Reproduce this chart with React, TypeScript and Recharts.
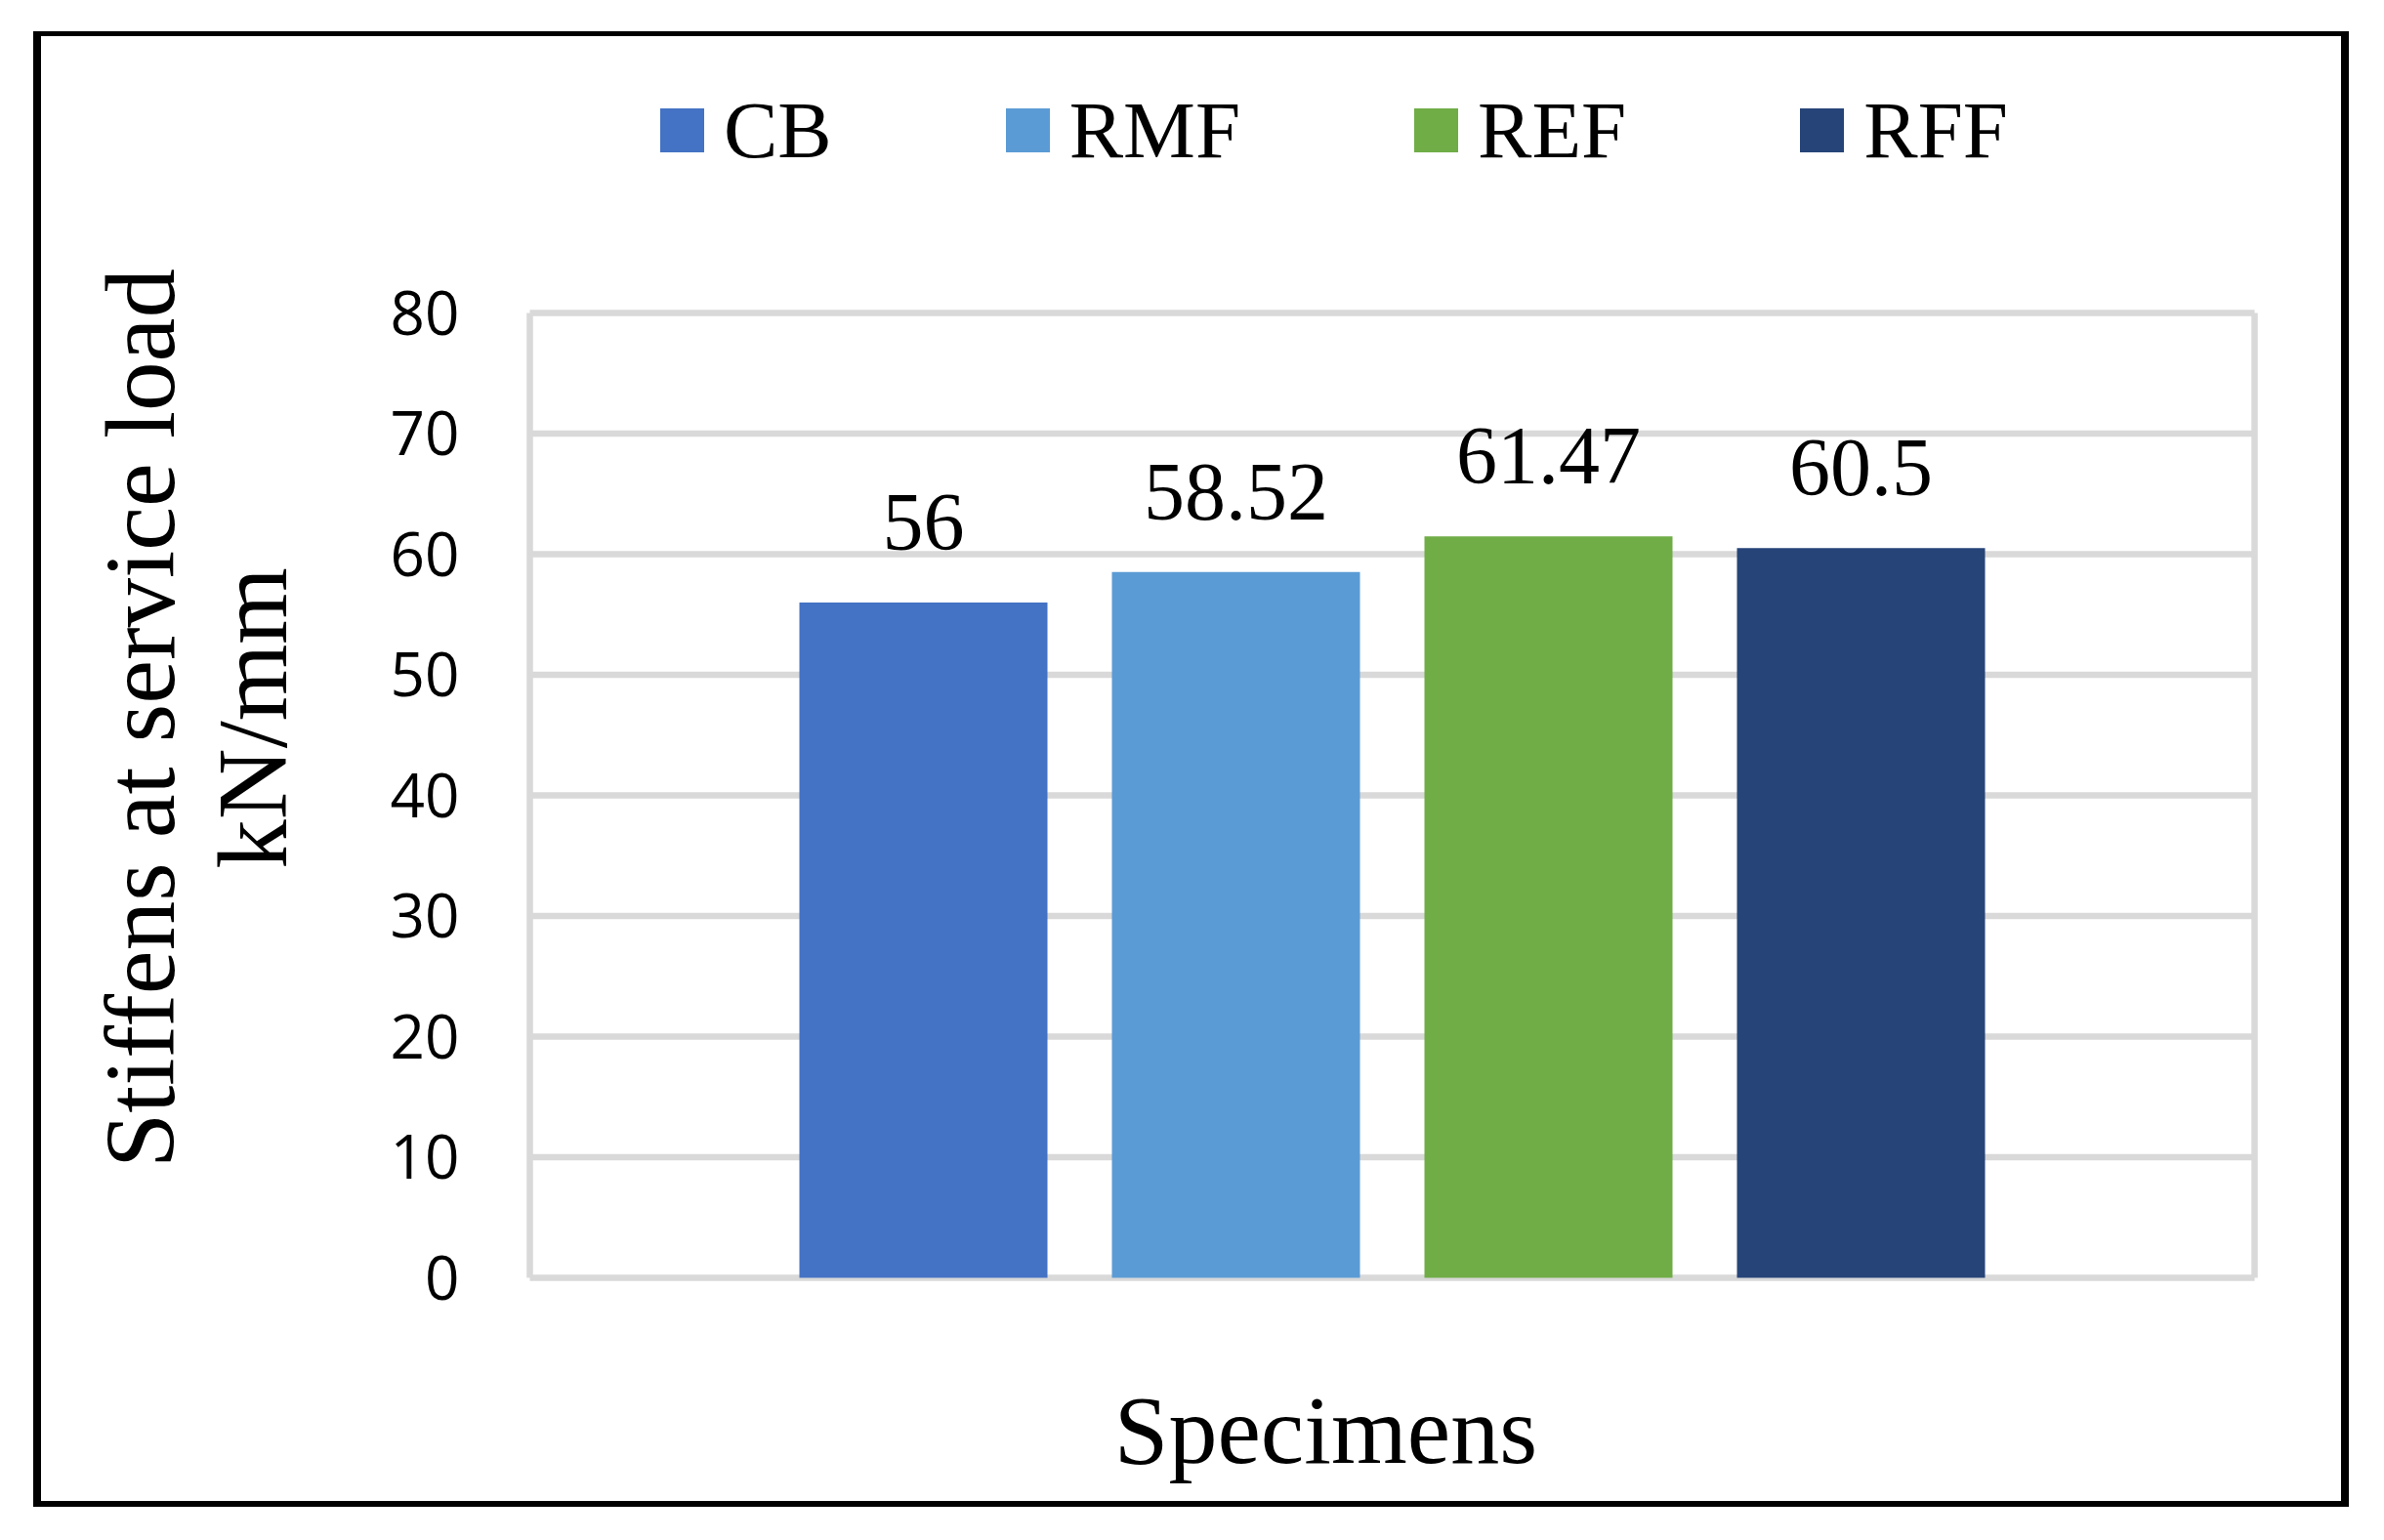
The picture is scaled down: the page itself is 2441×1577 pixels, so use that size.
import React from 'react';
import { BarChart, Bar, XAxis, YAxis, CartesianGrid, Legend, LabelList } from 'recharts';

const categories = ['Specimens'];
const seriesNames = ['CB', 'RMF', 'REF', 'RFF'];
const seriesValues = [56, 58.52, 61.47, 60.5];
const seriesColors = ['#4472C4', '#5B9BD5', '#70AD47', '#264478'];
const yTicks = [0, 10, 20, 30, 40, 50, 60, 70, 80];

const data = categories.map((name) => {
    const row: Record<string, string | number> = { name };
    seriesNames.forEach((s, i) => {
        row[s] = seriesValues[i];
    });
    return row;
});

const SERIF = '"Liberation Serif", "Times New Roman", serif';
const GRID = '#D9D9D9';

function LegendContent() {
    return (
        <div style={{ display: 'flex', alignItems: 'center', height: 100, gap: 178 }}>
            {seriesNames.map((s, i) => (
                <div key={s} style={{ display: 'flex', alignItems: 'center', gap: 20 }}>
                    <div style={{ width: 45, height: 45, background: seriesColors[i] }} />
                    <span style={{ fontFamily: SERIF, fontSize: 83, lineHeight: '100px', color: '#000' }}>{s}</span>
                </div>
            ))}
        </div>
    );
}

function YTitle(props: any) {
    const { viewBox } = props;
    const x = 178;
    const y = viewBox.y + viewBox.height / 2 - 79;
    return (
        <text
            x={x}
            y={y}
            transform={`rotate(-90, ${x}, ${y})`}
            textAnchor="middle"
            fontFamily={SERIF}
            fontSize={101}
            fill="#000"
        >
            <tspan x={x} y={y}>Stiffens at service load</tspan>
            <tspan x={x} dy={115}>kN/mm</tspan>
        </text>
    );
}

function XTitle(props: any) {
    const { viewBox } = props;
    return (
        <text
            x={viewBox.x + viewBox.width / 2 - 68}
            y={viewBox.y + 189.5}
            textAnchor="middle"
            fontFamily={SERIF}
            fontSize={100}
            fill="#000"
        >
            Specimens
        </text>
    );
}

export default function App() {
    return (
        <div style={{ position: 'absolute', left: 0, top: 0, width: 2441, height: 1577, background: '#fff' }}>
            <BarChart
                width={2441}
                height={1577}
                data={data}
                margin={{ top: 220.5, right: 132.5, left: 342.5, bottom: 208.5 }}
                barSize={254}
                barGap={66}
            >
                <CartesianGrid
                    stroke={GRID}
                    strokeWidth={6.5}
                    verticalCoordinatesGenerator={({ offset }: any) => [offset.left, offset.left + offset.width]}
                />
                <XAxis dataKey="name" tick={false} axisLine={false} tickLine={false} height={60} label={<XTitle />} />
                <YAxis
                    domain={[0, 80]}
                    ticks={yTicks}
                    width={200}
                    axisLine={false}
                    tickLine={false}
                    tickSize={6}
                    tickMargin={66}
                    tick={{ fontFamily: '"Open Sans", sans-serif', fontSize: 62, fill: '#000' }}
                    label={<YTitle />}
                />
                <Legend
                    verticalAlign="top"
                    content={<LegendContent />}
                    wrapperStyle={{ top: 83, left: 676, width: 'auto', height: 100 }}
                />
                {seriesNames.map((s, i) => (
                    <Bar key={s} dataKey={s} fill={seriesColors[i]} isAnimationActive={false}>
                        <LabelList
                            dataKey={s}
                            position="top"
                            offset={54}
                            fontFamily={SERIF}
                            fontSize={84}
                            fill="#000"
                        />
                    </Bar>
                ))}
            </BarChart>
            <div
                style={{
                    position: 'absolute',
                    left: 34,
                    top: 32,
                    width: 2371,
                    height: 1511,
                    boxSizing: 'border-box',
                    borderStyle: 'solid',
                    borderColor: '#000',
                    borderWidth: '5px 8px 6px 8px',
                    pointerEvents: 'none',
                }}
            />
        </div>
    );
}
